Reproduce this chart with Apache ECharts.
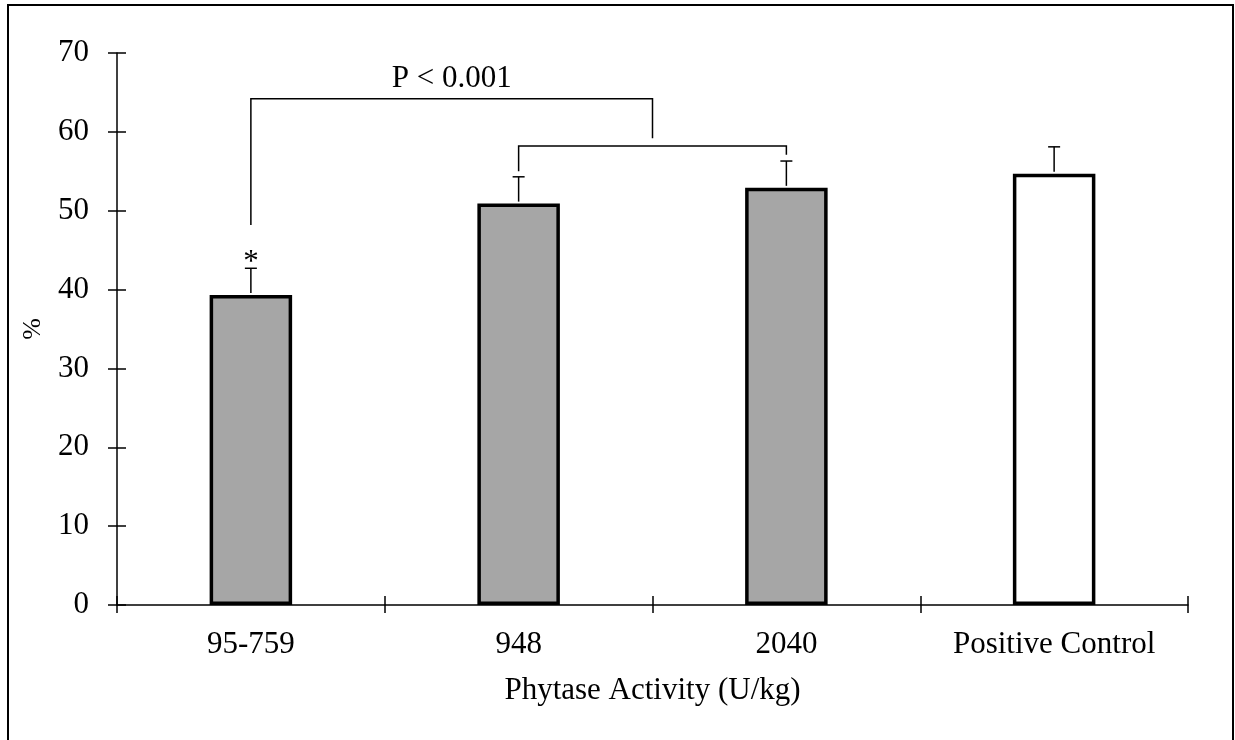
<!DOCTYPE html>
<html><head><meta charset="utf-8">
<script src="https://cdn.jsdelivr.net/npm/echarts@6/dist/echarts.min.js"></script>
<style>html,body{margin:0;padding:0;background:#fff}#c{width:1235px;height:740px}</style>
</head><body><div id="c"></div>
<script>
var categories = ['95-759', '948', '2040', 'Positive Control'];
var values = [39.3, 50.9, 52.9, 54.7];
var errors = [3.4, 3.4, 3.4, 3.4];
var fills = ['#a6a6a6', '#a6a6a6', '#a6a6a6', '#ffffff'];
var markers = ['*', '', '', ''];
var yTicks = [0, 10, 20, 30, 40, 50, 60, 70];
var pText = 'P < 0.001';
// bracket levels (in % units)
var upperBracketY = 64.2, upperLeftLegEnd = 48.2, upperMidLegEnd = 59.2;
var lowerBracketY = 58.2, lowerLeftLegEnd = 55.0, lowerRightLegEnd = 57.1;

var FONT = '"Liberation Serif", "Times New Roman", serif';
var FS = 31;
var chart = echarts.init(document.getElementById('c'));

var barData = values.map(function (v, i) {
  return { value: v, itemStyle: { color: fills[i] } };
});
var errData = values.map(function (v, i) { return [i, v, v + errors[i]]; });

var yAxisBase = {
  type: 'value', min: 0, max: 70, interval: 10,
  axisLine: { show: true, lineStyle: { color: '#000', width: 1.5 } },
  splitLine: { show: false }
};

chart.setOption({
  animation: false,
  backgroundColor: '#fff',
  textStyle: { fontFamily: FONT },
  graphic: [{
    type: 'rect', shape: { x: 8, y: 5, width: 1225, height: 800 },
    style: { fill: 'none', stroke: '#000', lineWidth: 2 }, z: 100
  }],
  grid: { left: 117, right: 47, top: 53, bottom: 135 },
  xAxis: [{
    type: 'category', data: categories,
    axisLine: { lineStyle: { color: '#000', width: 1.5 } },
    axisTick: { show: true, length: 8, lineStyle: { color: '#000', width: 1.5 } },
    axisLabel: { color: '#000', fontSize: FS, fontFamily: FONT, margin: 24 },
    name: 'Phytase Activity (U/kg)', nameLocation: 'middle', nameGap: 70,
    nameTextStyle: { color: '#000', fontSize: FS, fontFamily: FONT }
  }, {
    type: 'category', data: categories, position: 'bottom',
    axisLine: { show: false },
    axisTick: { show: true, inside: true, length: 9, lineStyle: { color: '#000', width: 1.5 } },
    axisLabel: { show: false }
  }],
  yAxis: [Object.assign({}, yAxisBase, {
    axisTick: { show: true, length: 9, lineStyle: { color: '#000', width: 1.5 } },
    axisLabel: { color: '#000', fontSize: FS, fontFamily: FONT, margin: 28,
      formatter: function (v) { return yTicks.indexOf(v) >= 0 ? String(v) : ''; } },
    name: '%', nameLocation: 'middle', nameGap: 71, nameRotate: 90,
    nameTextStyle: { color: '#000', fontSize: 26, fontFamily: FONT }
  }), Object.assign({}, yAxisBase, {
    position: 'left',
    axisLine: { show: false },
    axisTick: { show: true, inside: true, length: 9, lineStyle: { color: '#000', width: 1.5 } },
    axisLabel: { show: false }
  })],
  series: [{
    type: 'bar', data: barData, barWidth: 82.5,
    itemStyle: { borderColor: '#000', borderWidth: 3.5 },
    z: 2
  }, {
    type: 'custom', data: errData, z: 3,
    renderItem: function (params, api) {
      var i = api.value(0);
      var p0 = api.coord([i, api.value(1)]);
      var p1 = api.coord([i, api.value(2)]);
      var children = [{
        type: 'line', shape: { x1: p0[0], y1: p0[1] - 2, x2: p1[0], y2: p1[1] },
        style: { stroke: '#000', lineWidth: 1.5 }
      }, {
        type: 'line', shape: { x1: p1[0] - 6, y1: p1[1], x2: p1[0] + 6, y2: p1[1] },
        style: { stroke: '#000', lineWidth: 1.5 }
      }];
      if (markers[params.dataIndex]) {
        children.push({
          type: 'text', x: p1[0], y: p1[1] - 5,
          style: { text: markers[params.dataIndex], fill: '#000', font: FS + 'px ' + FONT,
            align: 'center', verticalAlign: 'middle' }
        });
      }
      return { type: 'group', children: children };
    }
  }, {
    type: 'custom', data: [[0]], z: 4,
    renderItem: function (params, api) {
      var a = api.coord([0, upperBracketY]);
      var b1 = api.coord([1, lowerBracketY]);
      var b2 = api.coord([2, lowerBracketY]);
      var midX = (b1[0] + b2[0]) / 2;
      var aLeg = api.coord([0, upperLeftLegEnd]);
      var mLeg = api.coord([1, upperMidLegEnd]);
      var l1 = api.coord([1, lowerLeftLegEnd]);
      var l2 = api.coord([2, lowerRightLegEnd]);
      var st = { stroke: '#000', lineWidth: 1.5, fill: 'none' };
      return { type: 'group', children: [{
        type: 'polyline', shape: { points: [[aLeg[0], aLeg[1]], [a[0], a[1]], [midX, a[1]], [midX, mLeg[1]]] }, style: st
      }, {
        type: 'polyline', shape: { points: [[l1[0], l1[1]], [b1[0], b1[1]], [b2[0], b2[1]], [l2[0], l2[1]]] }, style: st
      }, {
        type: 'text', x: (a[0] + midX) / 2, y: a[1] - 20,
        style: { text: pText, fill: '#000', font: FS + 'px ' + FONT, align: 'center', verticalAlign: 'middle' }
      }] };
    }
  }]
});
</script></body></html>
